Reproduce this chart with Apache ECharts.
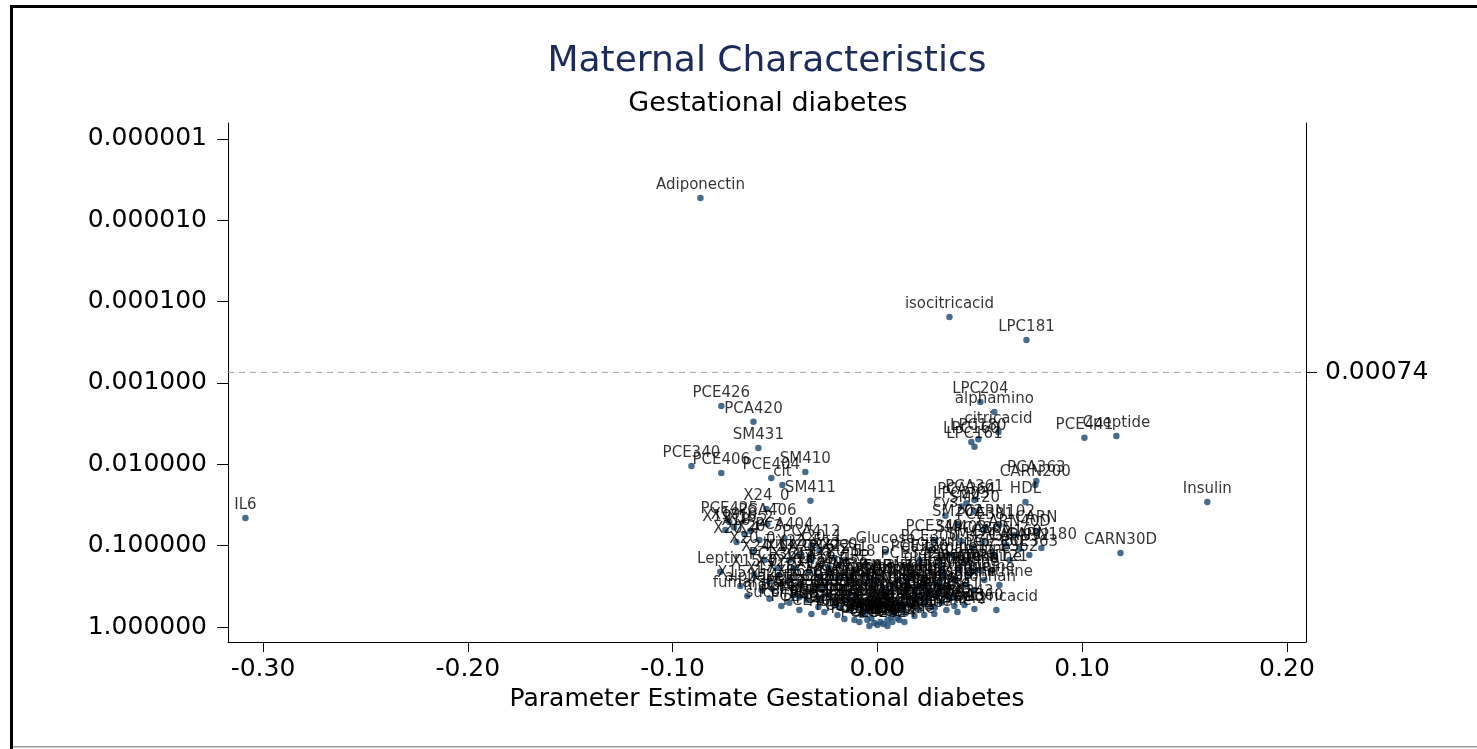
<!DOCTYPE html>
<html>
<head>
<meta charset="utf-8">
<title>Maternal Characteristics - Gestational diabetes</title>
<script src="https://cdn.jsdelivr.net/npm/echarts@6/dist/echarts.min.js"></script>
<style>
  html, body { margin: 0; padding: 0; background: #fff; }
  #chart { width: 1477px; height: 749px; }
</style>
</head>
<body>
<div id="chart"></div>
<script>
// Volcano plot: parameter estimate vs p-value (log scale, smallest p at the top)
const titleText = 'Maternal Characteristics';
const subtitleText = 'Gestational diabetes';
const xAxisName = 'Parameter Estimate Gestational diabetes';

const xTicks = [-0.3, -0.2, -0.1, 0, 0.1, 0.2];
const yTicks = [0.000001, 0.00001, 0.0001, 0.001, 0.01, 0.1, 1];
const threshold = 0.00074;
const xRange = [-0.3171, 0.2093];
const yRange = [6.36e-7, 1.529];

const names = [
  'Adiponectin','isocitricacid','LPC181','LPC204','alphamino','citricacid','LPC180','LPC160','LPC161',
  'PCE441','Cpeptide','PCA363','CARN200','HDL','Insulin','CARN30D','IL6',
  'PCE426','PCA420','SM431','PCE340','PCE406','PCE404','SM410','cit','SM411','X24_0','Glucose','Leptin',
  'PCE425','PCA406','X19_1','X18_2','X20_4','X20_3','PCA404','PCA412','triglycerides','X20_0',
  'PCE361','X12_0','X26_1','X15_1','alphaketo','X18_1','X16_0','succinate','X14_0','X18_3',
  'X22_6','X20_5','PCE384','TNF',
  'PCE382','PCE383','PCE385','PCE386','PCA380','PCA383','PCA384','PCA385','PCA386','SM160',
  'SM161','SM180','SM181','SM200','SM201','SM220','SM240','SM241','LPC140','LPC170',
  'LPC182','LPC183','LPC200','LPC205','LPC226','PCA300','PCA320','PCA321','PCA340','aceticacid',
  'PCA341','PCA342','PCA343','PCA360','butyricacid',
  'CARN20','CARN30','CARN40','CARN50','CARN60','CARN80','CARN100','CARN120','CARN140','CARN141',
  'CARN161','CARN181','CARN182','alanine','glycine','valine','leucine','isoleucine','proline','serine',
  'threonine','lysine','histidine','tyrosine','tryptophan','methionine','arginine','CARN121','ornithine',
  'citrulline','glutamine','glutamate','aspartate','asparagine','taurine','SM402','SM421','PCA365','CARN160',
  'CARN32','CARN180','CARN','PCE381','cys','SM420','PCA361','LPC203','PCA364','SM202',
  'CARN102','CARN40D','PCE300','PCE320','PCE342','PCE343','PCE360','PCE362','PCE363',
  'PCE364','PCE365','PCE380','PCE400','PCE401','PCE402','PCE403','PCE405','PCE420','PCE421',
  'PCE422','PCE423','PCE424','lactate','pyruvate','acetone','betaine','choline','creatinine','urea',
  'X16_1','X18_0','X20_2','X22_4','X22_5','X20_1','X22_0','X22_1','CRP','IL8',
  'X17_0','X24_1','X15_0','X17_1','fumarate','malate',
  'LDL','apoA1','apoB','IL10','hydroxybutyrate','cholesterol','PCA400','PCA402','PCA405','glycerol',
  'formate','X19_0','X16_2'
];

const estimates = [
  -0.0864, 0.0352, 0.0728, 0.0503, 0.0571, 0.0591, 0.0493, 0.0459, 0.0474,
  0.1011, 0.1167, 0.0776, 0.0771, 0.0723, 0.1611, 0.1187, -0.3086,
  -0.0762, -0.0605, -0.0581, -0.0908, -0.0762, -0.0518, -0.0352, -0.0464, -0.0327, -0.0542, 0.0039, -0.0767,
  -0.0723, -0.0537, -0.0742, -0.0649, -0.0688, -0.0576, -0.0454, -0.0322, -0.0332, -0.0610,
  -0.0488, -0.0479, -0.0244, -0.0669, -0.0566, -0.0430, -0.0381, -0.0469, -0.0513, -0.0381,
  -0.0322, -0.0186, -0.0273, -0.0005,
  -0.0283, -0.0234, -0.0210, -0.0161, -0.0137, -0.0112, -0.0098, -0.0078, -0.0063, -0.0049,
  -0.0029, -0.0015, 0.0000, 0.0015, 0.0029, 0.0049, 0.0068, 0.0083, 0.0098, 0.0117,
  0.0137, 0.0156, 0.0181, 0.0205, 0.0225, 0.0244, 0.0264, 0.0288, 0.0313, 0.0337,
  0.0361, 0.0391, 0.0425, 0.0474, 0.0581,
  -0.0259, -0.0195, -0.0161, -0.0127, -0.0088, -0.0059, -0.0029, 0.0010, 0.0039, 0.0073,
  0.0098, 0.0122, 0.0146, 0.0176, 0.0205, 0.0229, 0.0254, 0.0303, 0.0327, 0.0352,
  0.0376, 0.0400, 0.0425, 0.0449, 0.0474, 0.0498, 0.0522, 0.0562, 0.0596,
  0.0352, 0.0303, 0.0317, 0.0400, 0.0449, 0.0464, 0.0410, 0.0464, 0.0513, 0.0630,
  0.0693, 0.0801, 0.0776, 0.0527, 0.0332, 0.0474, 0.0474, 0.0410, 0.0435, 0.0391,
  0.0596, 0.0669, 0.0254, 0.0205, 0.0156, 0.0278, 0.0571, 0.0645, 0.0742,
  -0.0288, -0.0342, -0.0405, -0.0430, -0.0381, -0.0322, -0.0259, -0.0195, -0.0161, -0.0112,
  -0.0088, -0.0039, 0.0049, 0.0073, 0.0107, 0.0132, 0.0181, 0.0229, 0.0278, 0.0376,
  -0.0234, -0.0283, -0.0332, -0.0405, -0.0381, -0.0283, -0.0210, -0.0161, -0.0112, -0.0063,
  -0.0430, -0.0552, -0.0601, -0.0527, -0.0635, -0.0527,
  0.0200, -0.0020, 0.0060, -0.0180, 0.0150, -0.0100, 0.0040, -0.0140, 0.0280, 0.0090,
  -0.0060, -0.0700, -0.0620
];

const pvalues = [
  0.0000053, 0.000154, 0.000296, 0.00171, 0.00227, 0.0040, 0.0049, 0.0053, 0.0061,
  0.0047, 0.0045, 0.016, 0.018, 0.029, 0.029, 0.123, 0.0457,
  0.00192, 0.0030, 0.0063, 0.0105, 0.0128, 0.0147, 0.0124, 0.018, 0.028, 0.0354, 0.12, 0.21,
  0.051, 0.054, 0.064, 0.072, 0.090, 0.085, 0.081, 0.098, 0.138, 0.12,
  0.188, 0.229, 0.217, 0.313, 0.351, 0.264, 0.304, 0.55, 0.34, 0.43,
  0.15, 0.173, 0.35, 0.264,
  0.466, 0.404, 0.536, 0.466, 0.618, 0.404, 0.536, 0.712, 0.618, 0.82,
  0.775, 0.89, 0.945, 0.868, 0.919, 0.82, 0.75, 0.655, 0.775, 0.585,
  0.68, 0.536, 0.466, 0.618, 0.52, 0.44, 0.565, 0.404, 0.505, 0.618,
  0.44, 0.655, 0.536, 0.60, 0.618,
  0.304, 0.25, 0.33, 0.264, 0.351, 0.29, 0.404, 0.29, 0.37, 0.304,
  0.264, 0.37, 0.304, 0.24, 0.32, 0.264, 0.351, 0.29, 0.229, 0.33,
  0.264, 0.199, 0.304, 0.229, 0.351, 0.199, 0.264, 0.199, 0.304,
  0.13, 0.15, 0.199, 0.183, 0.16, 0.21, 0.088, 0.107, 0.09, 0.098,
  0.11, 0.107, 0.066, 0.061, 0.043, 0.0375, 0.0275, 0.033, 0.030, 0.0557,
  0.0557, 0.074, 0.113, 0.15, 0.18, 0.085, 0.13, 0.15, 0.13,
  0.567, 0.466, 0.404, 0.505, 0.618, 0.69, 0.655, 0.712, 0.80, 0.82,
  0.868, 0.972, 0.97, 0.868, 0.82, 0.868, 0.73, 0.712, 0.69, 0.55,
  0.19, 0.24, 0.21, 0.188, 0.13, 0.113, 0.142, 0.15, 0.199, 0.173,
  0.15, 0.15, 0.229, 0.275, 0.415, 0.45,
  0.40, 0.50, 0.45, 0.58, 0.42, 0.47, 0.56, 0.38, 0.58, 0.52,
  0.70, 0.060, 0.066
];

const points = names.map((n, i) => [estimates[i], pvalues[i], n]);

const FONT = 'DejaVu Sans';
const chart = echarts.init(document.getElementById('chart'), null, { renderer: 'canvas' });

chart.setOption({
  backgroundColor: '#ffffff',
  animation: false,
  textStyle: { fontFamily: FONT },
  grid: { left: 228, right: 171, top: 123, bottom: 107, containLabel: false },
  graphic: [
    { type: 'rect', shape: { x: 10, y: 5, width: 3, height: 744 }, style: { fill: '#000' } },
    { type: 'rect', shape: { x: 10, y: 5, width: 1467, height: 3 }, style: { fill: '#000' } },
    { type: 'rect', shape: { x: 13, y: 746, width: 1464, height: 1.5 }, style: { fill: '#9a9a9a' } },
    { type: 'text', x: 767, y: 62, style: { text: titleText, fill: '#1c2b5a', font: '36px "DejaVu Sans"', textAlign: 'center', textVerticalAlign: 'middle' } },
    { type: 'text', x: 768, y: 104, style: { text: subtitleText, fill: '#000', font: '27px "DejaVu Sans"', textAlign: 'center', textVerticalAlign: 'middle' } }
  ],
  xAxis: {
    type: 'value',
    min: xRange[0],
    max: xRange[1],
    name: xAxisName,
    nameLocation: 'middle',
    nameGap: 37,
    nameTextStyle: { fontFamily: FONT, fontSize: 25, color: '#000' },
    axisLine: { show: true, onZero: false, lineStyle: { color: '#000', width: 1 } },
    axisTick: { show: true, length: 10, customValues: xTicks, lineStyle: { color: '#000' } },
    axisLabel: {
      customValues: xTicks,
      margin: 15,
      fontFamily: FONT, fontSize: 25, color: '#000',
      formatter: v => v.toFixed(2)
    },
    splitLine: { show: false }
  },
  yAxis: [
    {
      type: 'log',
      inverse: true,
      min: yRange[0],
      max: yRange[1],
      position: 'left',
      axisLine: { show: true, onZero: false, lineStyle: { color: '#000', width: 1 } },
      axisTick: { show: true, length: 11, customValues: yTicks, lineStyle: { color: '#000' } },
      axisLabel: {
        customValues: yTicks,
        margin: 21,
        fontFamily: FONT, fontSize: 25, color: '#000',
        formatter: v => Number(v).toFixed(6)
      },
      splitLine: { show: false }
    },
    {
      type: 'log',
      inverse: true,
      min: yRange[0],
      max: yRange[1],
      position: 'right',
      axisLine: { show: true, onZero: false, lineStyle: { color: '#000', width: 1 } },
      axisTick: { show: true, length: 11, customValues: [threshold], lineStyle: { color: '#000' } },
      axisLabel: {
        customValues: [threshold],
        margin: 19,
        fontFamily: FONT, fontSize: 25, color: '#000',
        formatter: () => String(threshold)
      },
      splitLine: { show: false }
    }
  ],
  series: [
    {
      // significance threshold drawn across the plot region
      type: 'line',
      yAxisIndex: 0,
      data: [[xRange[0], threshold], [xRange[1], threshold]],
      symbol: 'none',
      silent: true,
      lineStyle: { color: '#a0a0a0', type: [6, 5], width: 1 },
      z: 1
    },
    {
      type: 'scatter',
      yAxisIndex: 0,
      data: points,
      symbol: 'circle',
      symbolSize: 6.5,
      itemStyle: { color: '#1a476f' },
      label: {
        show: true,
        position: 'top',
        distance: 2,
        fontFamily: FONT,
        fontSize: 15,
        color: '#000',
        formatter: p => p.data[2]
      },
      emphasis: { disabled: true },
      z: 3
    }
  ]
});
</script>
</body>
</html>
